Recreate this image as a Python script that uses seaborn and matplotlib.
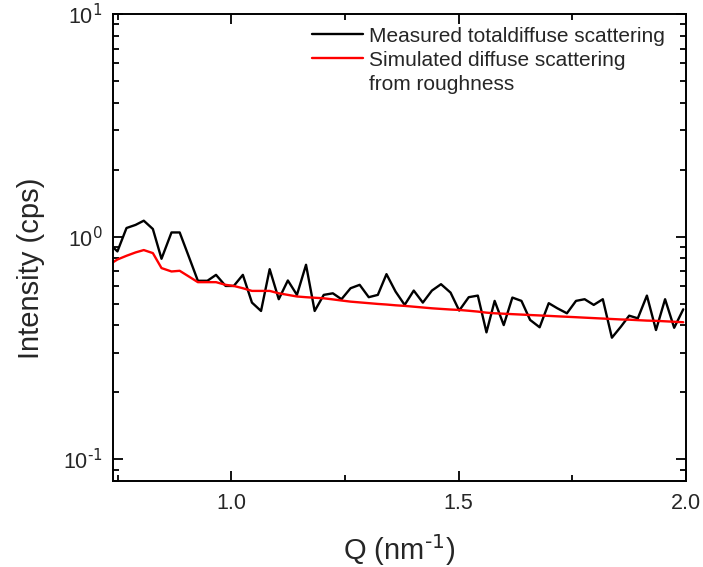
import matplotlib
matplotlib.use("Agg")
import numpy as np
import pandas as pd
import seaborn as sns
import matplotlib.pyplot as plt
from matplotlib.lines import Line2D
from matplotlib.ticker import MultipleLocator, LogLocator, FuncFormatter, NullFormatter

q_values = [0.729, 0.749, 0.769, 0.789, 0.807, 0.827, 0.846, 0.868, 0.886, 0.906,
            0.926, 0.947, 0.966, 0.987, 1.005, 1.025, 1.045, 1.065, 1.084, 1.104,
            1.124, 1.144, 1.164, 1.183, 1.203, 1.223, 1.242, 1.262, 1.282, 1.302,
            1.322, 1.341, 1.361, 1.381, 1.401, 1.421, 1.441, 1.461, 1.482, 1.501,
            1.522, 1.542, 1.561, 1.579, 1.599, 1.618, 1.638, 1.657, 1.678, 1.698,
            1.717, 1.738, 1.758, 1.777, 1.797, 1.817, 1.837, 1.857, 1.875, 1.894,
            1.914, 1.934, 1.954, 1.974, 1.994]

measured = [0.94, 0.859, 1.094, 1.13, 1.18, 1.083, 0.796, 1.045, 1.045, 0.815,
            0.634, 0.634, 0.674, 0.601, 0.601, 0.674, 0.506, 0.464, 0.715, 0.524,
            0.636, 0.548, 0.748, 0.464, 0.548, 0.557, 0.524, 0.587, 0.608, 0.535,
            0.548, 0.679, 0.567, 0.494, 0.573, 0.506, 0.573, 0.612, 0.561, 0.466,
            0.535, 0.544, 0.372, 0.515, 0.401, 0.533, 0.515, 0.423, 0.392, 0.503,
            0.477, 0.453, 0.515, 0.524, 0.494, 0.524, 0.352, 0.395, 0.442, 0.430,
            0.544, 0.381, 0.524, 0.390, 0.472]

simulated = [0.745, 0.79, 0.821, 0.85, 0.871, 0.844, 0.723, 0.698, 0.703, 0.663,
             0.625, 0.625, 0.625, 0.608, 0.601, 0.587, 0.571, 0.571, 0.571, 0.557,
             0.548, 0.539, 0.535, 0.532, 0.529, 0.523, 0.517, 0.511, 0.507, 0.503,
             0.499, 0.496, 0.492, 0.489, 0.485, 0.481, 0.477, 0.474, 0.471, 0.469,
             0.465, 0.461, 0.456, 0.453, 0.451, 0.449, 0.447, 0.445, 0.443, 0.441,
             0.439, 0.437, 0.435, 0.433, 0.431, 0.429, 0.427, 0.425, 0.424, 0.422,
             0.420, 0.419, 0.417, 0.415, 0.413]

label_measured = "Measured totaldiffuse scattering"
label_simulated = "Simulated diffuse scattering"
label_simulated_cont = "from roughness"

sns.set_style("ticks")
plt.rcParams["font.family"] = ["Liberation Sans", "DejaVu Sans"]
plt.rcParams["mathtext.default"] = "regular"
plt.rcParams["axes.unicode_minus"] = False

fig = plt.figure(figsize=(7.03, 5.67), dpi=100)
ax = fig.add_axes([0.1612, 0.1517, 0.8146, 0.8236])

df = pd.DataFrame({"Q": q_values, "measured": measured, "simulated": simulated})
sns.lineplot(data=df, x="Q", y="measured", ax=ax, color="black", lw=1.7,
             label=label_measured)
sns.lineplot(data=df, x="Q", y="simulated", ax=ax, color="#ff0000", lw=1.7,
             label=label_simulated)

ax.set_yscale("log")
ax.set_xlim(0.74, 2.0)
ax.set_ylim(0.08, 10)

ax.xaxis.set_major_locator(MultipleLocator(0.5))
ax.xaxis.set_minor_locator(MultipleLocator(0.25))
ax.xaxis.set_major_formatter(matplotlib.ticker.FormatStrFormatter("%.1f"))
ax.yaxis.set_major_locator(LogLocator(base=10))
ax.yaxis.set_major_formatter(
    FuncFormatter(lambda v, p: r"$10^{\text{%d}}$" % int(round(np.log10(v)))))
ax.yaxis.set_minor_locator(LogLocator(base=10, subs=np.arange(2, 10)))
ax.yaxis.set_minor_formatter(NullFormatter())

for s in ax.spines.values():
    s.set_visible(True)
    s.set_linewidth(1.4)
    s.set_color("black")

ax.tick_params(which="both", direction="in", top=True, right=True,
               color="black", width=1.3)
ax.tick_params(which="major", length=7, labelsize=15.5)
ax.tick_params(axis="x", which="major", pad=9)
ax.tick_params(axis="y", which="major", pad=8)
ax.tick_params(which="minor", length=4)

ax.set_xlabel(r"Q (nm$^{\text{-1}}$)", fontsize=21, labelpad=13)
ax.set_ylabel("Intensity (cps)", fontsize=21)
ax.yaxis.set_label_coords(-0.119, 0.456)

handles, labels = ax.get_legend_handles_labels()
handles.append(Line2D([], [], color="none"))
labels.append(label_simulated_cont)
leg = ax.legend(handles, labels, loc="upper right", bbox_to_anchor=(0.985, 1.0),
                frameon=False, fontsize=15,
                handlelength=2.45, handletextpad=0.3, borderaxespad=0.3,
                labelspacing=0.25, borderpad=0.3)

fig.savefig("out.png", dpi=100)
